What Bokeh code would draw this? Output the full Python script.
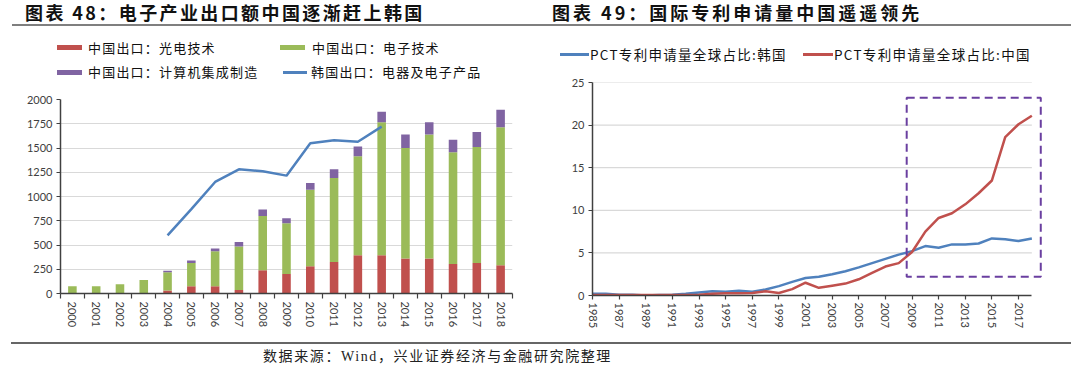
from bokeh.plotting import figure
from bokeh.models import BoxAnnotation, FixedTicker, Range1d, Div, ColumnDataSource
from bokeh.layouts import column, row
from bokeh.embed import file_html
from bokeh.resources import INLINE

# ---------------- data: chart 48 ----------------
years_a = ["2000", "2001", "2002", "2003", "2004", "2005", "2006", "2007", "2008", "2009",
           "2010", "2011", "2012", "2013", "2014", "2015", "2016", "2017", "2018"]
cn_opto = [0, 0, 0, 0, 30, 75, 75, 35, 240, 200, 280, 325, 395, 395, 360, 360, 305, 315, 290]
cn_elec = [75, 75, 95, 140, 190, 240, 360, 450, 560, 525, 790, 865, 1020, 1370, 1140, 1280, 1150, 1195, 1425]
cn_comp = [0, 0, 0, 0, 15, 25, 30, 45, 65, 50, 70, 90, 100, 110, 140, 125, 130, 155, 180]
kr_years = ["2004", "2005", "2006", "2007", "2008", "2009", "2010", "2011", "2012", "2013"]
kr_exports = [600, 870, 1150, 1280, 1260, 1215, 1550, 1580, 1565, 1720]
y_ticks_a = [0, 250, 500, 750, 1000, 1250, 1500, 1750, 2000]
legend_a = ["中国出口：光电技术", "中国出口：电子技术", "中国出口：计算机集成制造", "韩国出口：电器及电子产品"]
title_a = "图表 48：电子产业出口额中国逐渐赶上韩国"

# ---------------- data: chart 49 ----------------
years_b = list(range(1985, 2019))
pct_korea = [0.2, 0.2, 0.1, 0.1, 0.0, 0.05, 0.1, 0.2, 0.35, 0.5, 0.45, 0.55, 0.45, 0.7, 1.1, 1.6,
             2.05, 2.2, 2.5, 2.85, 3.3, 3.8, 4.3, 4.8, 5.2, 5.8, 5.6, 6.0, 6.0, 6.1, 6.7, 6.6, 6.4, 6.7]
pct_china = [0.05, 0.05, 0.05, 0.05, 0.05, 0.05, 0.05, 0.05, 0.1, 0.2, 0.25, 0.25, 0.3, 0.5, 0.3, 0.75,
             1.5, 0.9, 1.15, 1.4, 1.9, 2.65, 3.4, 3.8, 5.1, 7.5, 9.1, 9.65, 10.7, 12.0, 13.5, 18.6, 20.1, 21.1]
x_ticks_b = list(range(1985, 2018, 2))
y_ticks_b = [0, 5, 10, 15, 20, 25]
highlight = dict(x0=2008.6, x1=2018.67, y0=2.2, y1=23.2)
legend_b = ["PCT专利申请量全球占比:韩国", "PCT专利申请量全球占比:中国"]
title_b = "图表 49：国际专利申请量中国遥遥领先"
source_note = "数据来源：Wind，兴业证券经济与金融研究院整理"

RED = "#C0504D"
GREEN = "#9BBB59"
PURPLE = "#8064A2"
BLUE = "#4F81BD"
BOX = "#6A3FA0"
AX = "#404040"
GRID = "#d9d9d9"
NUM = "Lato"
CJK = "'Noto Sans CJK SC'"


def style_axes(p):
    for ax in (p.xaxis[0], p.yaxis[0]):
        ax.axis_line_color = AX
        ax.axis_line_width = 1.5
        ax.major_label_text_font = NUM
        ax.major_label_text_font_size = "11px"
        ax.major_label_text_color = AX
        ax.major_tick_line_color = AX
        ax.major_tick_line_width = 1.2
        ax.major_tick_in = 0
        ax.major_tick_out = 4
        ax.minor_tick_line_color = None
    p.yaxis[0].major_label_standoff = 4
    p.xaxis[0].major_label_orientation = "vertical"
    p.xaxis[0].major_label_standoff = 3
    p.xgrid.visible = False
    p.outline_line_color = None


# ---------------- HTML helpers ----------------
def box(l, t, w, h, color):
    return (f'<div style="position:absolute;left:{l}px;top:{t}px;width:{w}px;height:{h}px;'
            f'background:{color};"></div>')


def txt(l, t, s, size, lh, weight="normal", ls=0, family=CJK, color="#111"):
    return (f'<div style="position:absolute;left:{l}px;top:{t}px;font-family:{family};'
            f'font-size:{size}px;line-height:{lh}px;font-weight:{weight};letter-spacing:{ls}px;'
            f'color:{color};white-space:nowrap;">{s}</div>')


def wrap(w, h, inner):
    return f'<div style="position:relative;width:{w}px;height:{h}px;">{inner}</div>'


# ---------------- left header ----------------
h1_inner = (
    txt(25, 3, title_a, 18, 19, weight="bold", ls=2.4)
    + box(12, 24, 528, 2, "#7f7f7f")
    + box(57, 45, 25, 5, RED) + txt(88, 40.5, legend_a[0], 13, 14, ls=1.2)
    + box(280, 45, 25, 5, GREEN) + txt(312, 40.5, legend_a[1], 13, 14, ls=1.2)
    + box(57, 69.5, 25, 5, PURPLE) + txt(88, 65, legend_a[2], 13, 14, ls=1.2)
    + box(283, 71, 24, 2.5, BLUE) + txt(311, 65, legend_a[3], 13, 14, ls=1.2)
)
h1 = Div(text=wrap(540, 80, h1_inner), width=540, height=80, margin=0)

# ---------------- left figure ----------------
p1 = figure(width=540, height=255, x_range=Range1d(-0.5, len(years_a) - 0.5), y_range=Range1d(0, 2000),
            output_backend="svg", toolbar_location=None,
            min_border_left=60, min_border_right=28, min_border_top=19, min_border_bottom=42)
p1.ygrid.grid_line_color = GRID
p1.ygrid.grid_line_width = 1.2
src = ColumnDataSource(dict(x=list(range(len(years_a))), opto=cn_opto, elec=cn_elec, comp=cn_comp))
p1.vbar_stack(["opto", "elec", "comp"], x="x", width=0.36, fill_color=[RED, GREEN, PURPLE],
              line_color=None, source=src)
kr_x = [years_a.index(y) for y in kr_years]
p1.line(kr_x, kr_exports, line_color=BLUE, line_width=2.5)
style_axes(p1)
p1.yaxis[0].ticker = FixedTicker(ticks=y_ticks_a)
xa = p1.xaxis[0]
xa.ticker = FixedTicker(ticks=list(range(len(years_a))),
                        minor_ticks=[i - 0.5 for i in range(len(years_a) + 1)])
xa.major_label_overrides = {i: y for i, y in enumerate(years_a)}
xa.major_tick_line_color = None
xa.minor_tick_line_color = AX
xa.minor_tick_line_width = 1.2
xa.minor_tick_in = 0
xa.minor_tick_out = 5

# ---------------- right header ----------------
h2_inner = (
    txt(12, 3, title_b, 18, 19, weight="bold", ls=3.0)
    + box(0, 24, 531, 2, "#7f7f7f")
    + box(20, 53, 29, 2.5, BLUE) + txt(50, 47, legend_b[0], 13.5, 14, ls=1.3)
    + box(263, 53, 30, 2.5, RED) + txt(294, 47, legend_b[1], 13.5, 14, ls=1.3)
)
h2 = Div(text=wrap(540, 64, h2_inner), width=540, height=64, margin=0)

# ---------------- right figure ----------------
p2 = figure(width=540, height=271, x_range=Range1d(1985, 2018.8), y_range=Range1d(0, 25),
            output_backend="svg", toolbar_location=None,
            min_border_left=52, min_border_right=38, min_border_top=18, min_border_bottom=40)
p2.ygrid.visible = False
p2.segment(x0=years_b[0], x1=years_b[-1], y0=y_ticks_b[1:], y1=y_ticks_b[1:],
           line_color=GRID, line_width=1.2)
p2.line(years_b, pct_korea, line_color=BLUE, line_width=2.5)
p2.line(years_b, pct_china, line_color=RED, line_width=2.5)
style_axes(p2)
p2.yaxis[0].ticker = FixedTicker(ticks=y_ticks_b)
p2.xaxis[0].ticker = FixedTicker(ticks=x_ticks_b)
p2.xaxis[0].bounds = (years_b[0], years_b[-1])
p2.add_layout(BoxAnnotation(left=highlight["x0"], right=highlight["x1"],
                            bottom=highlight["y0"], top=highlight["y1"],
                            fill_alpha=0, line_color=BOX, line_alpha=1, line_width=2,
                            line_dash="8 5"))

# ---------------- footer ----------------
f_inner = (
    box(11, 7, 1060, 2, "#666666")
    + txt(263, 13, source_note, 14, 18, ls=1.6, family="'Liberation Serif', 'Noto Sans CJK SC'",
          color="#222")
)
footer = Div(text=wrap(1080, 36, f_inner), width=1080, height=36, margin=0)

layout = column(row(column(h1, p1), column(h2, p2)), footer)
open("out.html", "w").write(file_html(layout, INLINE))
